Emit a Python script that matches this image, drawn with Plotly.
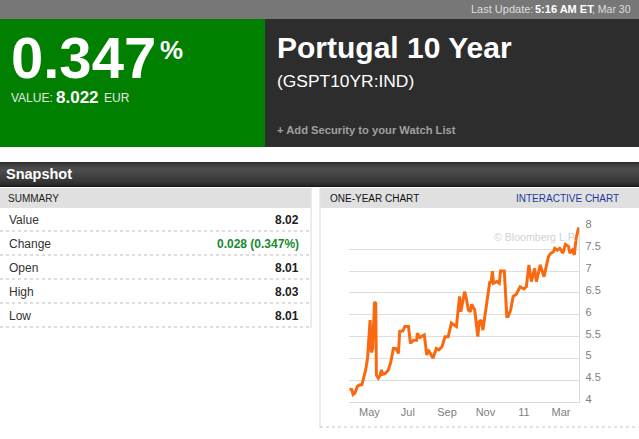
from datetime import date, timedelta
import plotly.graph_objects as go

W, H = 639, 439
FONT = "Liberation Sans"

start_date = date(2010, 3, 30)
end_date = date(2011, 3, 30)
day_offsets = [0, 4, 6, 9, 13, 17, 20, 22, 26, 29, 32, 33, 35, 37, 40, 42, 43, 46, 49, 51, 53, 57, 62, 66, 70, 74,
               78, 80, 85, 88, 94, 97, 102, 107, 108, 112, 119, 123, 125, 129, 133, 138, 142, 147, 152, 157, 162,
               170, 175, 177, 183, 185, 189, 192, 194, 199, 204, 206, 209, 212, 215, 218, 221, 223, 225, 227, 229,
               234, 238, 240, 246, 248, 250, 252, 256, 260, 265, 271, 277, 281, 285, 289, 294, 297, 303, 309, 316,
               320, 324, 326, 330, 334, 339, 343, 348, 350, 354, 357, 360, 364]
yields = [4.30, 4.29, 4.18, 4.21, 4.37, 4.40, 4.40, 4.50, 4.74, 5.01, 5.77, 5.88, 5.14, 5.23, 6.29, 6.26, 4.62, 4.55,
          4.62, 4.74, 4.64, 4.66, 4.74, 4.93, 5.23, 5.23, 5.12, 5.62, 5.63, 5.73, 5.73, 5.35, 5.42, 5.42, 5.58, 5.48,
          5.54, 5.08, 5.20, 5.10, 5.01, 5.23, 5.20, 5.27, 5.50, 5.50, 5.81, 5.73, 6.42, 6.07, 6.53, 6.42, 6.11, 6.07,
          6.24, 6.11, 5.50, 5.84, 5.88, 5.65, 5.96, 6.30, 6.49, 6.76, 6.72, 7.00, 6.72, 6.76, 6.72, 7.00, 7.00, 6.45,
          5.96, 5.96, 6.11, 6.42, 6.47, 6.64, 6.59, 6.64, 7.14, 6.76, 7.06, 6.76, 7.14, 6.87, 7.33, 7.41, 7.44, 7.52,
          7.48, 7.52, 7.41, 7.61, 7.56, 7.41, 7.48, 7.37, 7.75, 8.00]
dates = [start_date + timedelta(days=d) for d in day_offsets]

x_tick_dates = ["2010-05-01", "2010-07-01", "2010-09-01", "2010-11-01", "2011-01-01", "2011-03-01"]
x_tick_labels = ["May", "Jul", "Sep", "Nov", "11", "Mar"]
y_ticks = [4, 4.5, 5, 5.5, 6, 6.5, 7, 7.5, 8]

summary_rows = ["Value", "Change", "Open", "High", "Low"]
summary_values = ["8.02", "0.028 (0.347%)", "8.01", "8.03", "8.01"]
row_centers = [220, 244, 268, 292, 316]
row_rules = [231, 255, 279, 303, 327]


def X(p):
    return p / W


def Y(p):
    return 1 - p / H


shapes = []
annotations = []


def rect(x0, y0, x1, y1, color):
    shapes.append(dict(type="rect", xref="paper", yref="paper", x0=X(x0), x1=X(x1), y0=Y(y0), y1=Y(y1),
                       fillcolor=color, line_width=0, layer="below"))


def rule(x0, y0, x1, y1, color, dash="solid", width=1):
    shapes.append(dict(type="line", xref="paper", yref="paper", x0=X(x0), x1=X(x1), y0=Y(y0), y1=Y(y1),
                       line=dict(color=color, width=width, dash=dash), layer="below"))


def text(x, y, s, size, color, anchor="left", family=FONT):
    annotations.append(dict(xref="paper", yref="paper", x=X(x), y=Y(y), text=s, showarrow=False, xanchor=anchor,
                            yanchor="middle", align=anchor, borderpad=0, borderwidth=0,
                            font=dict(family=family, size=size, color=color)))


rect(0, 0, W, 19, "#777777")
rect(0, 19, 265, 147, "#007f00")
rect(265, 19, W, 147, "#2d2d2d")

# Snapshot header gradient
grad = ["#2a2a2a", "#363636", "#3c3c3c", "#414141", "#454545", "#484848", "#4a4a4a", "#4b4b4b", "#4b4b4b",
        "#4a4a4a", "#484848", "#464646", "#444444", "#424242", "#404040", "#3e3e3e", "#3c3c3c", "#3a3a3a",
        "#383838", "#353535", "#323232", "#2f2f2f", "#2c2c2c", "#222222", "#1a1a1a"]
for i, c in enumerate(grad):
    rect(0, 162 + i, W, 163 + i, c)

rect(0, 188, 311, 208, "#e0e0e0")
rect(320, 188, W, 208, "#e0e0e0")
rule(311, 188, 311, 328, "#e4e4e4", width=1.5)
rule(320, 188, 320, 428, "#e4e4e4", width=1.5)
rule(320, 427, W, 427, "#c4c4c4", dash="dot")
for ry in row_rules:
    rule(0, ry, 311, ry, "#bbbbbb", dash="dot")

text(471, 9, "Last Update:", 11, "#dddddd")
text(535, 9, "<b>5:16 AM ET</b>", 11, "#ffffff")
text(592, 9, ", Mar 30", 10.5, "#dddddd")
text(11, 58, "<b>0.347</b>", 58, "#ffffff")
text(160, 50, "<b>%</b>", 26, "#ffffff")
text(11, 98, "VALUE:", 12, "#e8e8e8")
text(56, 97, "<b>8.022</b>", 17, "#ffffff")
text(104, 98, "EUR", 12, "#e8e8e8")
text(277, 47, "<b>Portugal 10 Year</b>", 30, "#ffffff")
text(277, 81, "(GSPT10YR:IND)", 17.4, "#ffffff")
text(277, 130, "<b>+ Add Security to your Watch List</b>", 11.2, "#a0a0a0")
text(6, 174, "<b>Snapshot</b>", 14.5, "#ffffff")
text(8, 198, "SUMMARY", 10, "#222222")
text(330, 198, "ONE-YEAR CHART", 10, "#111111")
text(619, 198, "INTERACTIVE CHART", 10, "#1c3a9c", anchor="right")
text(494, 237, "© Bloomberg L.P.", 10.6, "#d2d2d2")

for name, val, cy in zip(summary_rows, summary_values, row_centers):
    text(9, cy, name, 12, "#333333")
    text(299, cy, "<b>%s</b>" % val, 12, "#1a8a2e" if name == "Change" else "#222222", anchor="right")

fig = go.Figure(go.Scatter(x=dates, y=yields, mode="lines", line=dict(color="#f96a10", width=3), hoverinfo="skip"))
fig.update_layout(
    template="none",
    width=W, height=H, autosize=False, margin=dict(l=0, r=0, t=0, b=0, pad=0),
    paper_bgcolor="#ffffff", plot_bgcolor="#ffffff", showlegend=False,
    shapes=shapes, annotations=annotations,
    xaxis=dict(domain=[X(349.3), X(579.3)], range=[start_date, end_date], type="date", tickmode="array",
               tickvals=x_tick_dates, ticktext=x_tick_labels, showgrid=False, zeroline=False, showline=True,
               automargin=False, linecolor="#d9d9d9", linewidth=1, ticks="", ticklabelstandoff=-1,
               tickfont=dict(family=FONT, size=11, color="#808080")),
    yaxis=dict(domain=[Y(402.3), Y(227.3)], range=[4, 8], side="right", anchor="x", tickmode="array",
               tickvals=y_ticks, ticktext=[("%g" % v) for v in y_ticks], showgrid=True, gridcolor="#dddddd",
               automargin=False, gridwidth=1, zeroline=False, showline=True, linecolor="#d9d9d9", linewidth=1,
               ticks="", ticklabelstandoff=3, ticklabelshift=-3,
               tickfont=dict(family=FONT, size=11, color="#808080")),
)
fig.write_html("out.html", config=dict(displayModeBar=False, responsive=False),
               post_script="document.body.style.margin='0';")
